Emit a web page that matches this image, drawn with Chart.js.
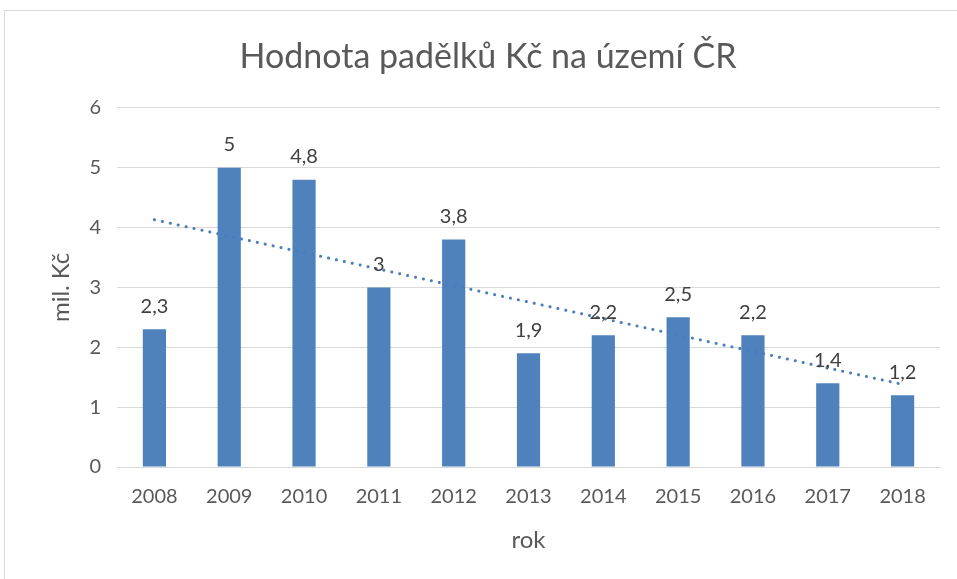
<!DOCTYPE html>
<html>
<head>
<meta charset="utf-8">
<script src="https://cdn.jsdelivr.net/npm/chart.js@4"></script>
<style>
  body { margin: 0; background: #fff; }
  #frame { position: absolute; left: 4px; top: 10px; width: 1000px; height: 1000px;
           border-left: 1px solid #d9d9d9; border-top: 1px solid #d9d9d9; }
  #chart { position: absolute; left: 0; top: 0; }
</style>
</head>
<body>
<div id="frame"></div>
<canvas id="chart" width="957" height="579"></canvas>
<script>
var years = ["2008", "2009", "2010", "2011", "2012", "2013", "2014", "2015", "2016", "2017", "2018"];
var values = [2.3, 5, 4.8, 3, 3.8, 1.9, 2.2, 2.5, 2.2, 1.4, 1.2];
// trend line ends, gaps spanned
var trend = [4.13, null, null, null, null, null, null, null, null, null, 1.38];

var fontName = "Lato";

var valueLabels = {
  id: "valueLabels",
  afterDatasetsDraw(chart) {
    var ctx = chart.ctx;
    var meta = chart.getDatasetMeta(0);
    ctx.save();
    ctx.font = "20px " + fontName;
    ctx.fillStyle = "#404040";
    ctx.textAlign = "center";
    ctx.textBaseline = "middle";
    meta.data.forEach(function (bar, i) {
      ctx.fillText(String(values[i]).replace(".", ","), bar.x, bar.y - 23);
    });
    ctx.restore();
  }
};

new Chart("chart", {
  data: {
    labels: years,
    datasets: [{
      type: "bar",
      data: values,
      backgroundColor: "#4f81bd",
      barPercentage: 0.31,
      categoryPercentage: 1,
      order: 1
    }, {
      type: "line",
      data: trend,
      spanGaps: true,
      borderColor: "#4a7ebb",
      borderWidth: 3,
      borderDash: [0.1, 8],
      borderCapStyle: "round",
      pointRadius: 0,
      fill: false,
      order: 0
    }]
  },
  options: {
    responsive: false,
    animation: false,
    layout: { padding: { left: 36, right: 17, top: 0, bottom: 0 } },
    plugins: {
      legend: { display: false },
      tooltip: { enabled: false },
      title: {
        display: true,
        text: "Hodnota padělků Kč na území ČR",
        color: "#595959",
        font: { family: fontName, size: 34, weight: "normal" },
        padding: { top: 37, bottom: 30 }
      }
    },
    scales: {
      x: {
        grid: { display: false, drawTicks: false },
        border: { color: "#d9d9d9" },
        ticks: { color: "#595959", font: { family: fontName, size: 20 }, padding: 18 },
        title: {
          display: true, text: "rok", color: "#595959",
          font: { family: fontName, size: 24 }, padding: { top: 0, bottom: 24 }
        },
        afterFit: function (scale) { scale.height = 112; }
      },
      y: {
        min: 0, max: 6,
        grid: { color: "#d9d9d9", drawTicks: false },
        border: { display: false },
        ticks: { stepSize: 1, color: "#595959", font: { family: fontName, size: 20 }, padding: 16 },
        title: {
          display: true, text: "mil. Kč", color: "#595959",
          font: { family: fontName, size: 24 }, padding: { top: 11, bottom: 0 }
        },
        afterFit: function (scale) { scale.width = 81; }
      }
    }
  },
  plugins: [valueLabels]
});
</script>
</body>
</html>
